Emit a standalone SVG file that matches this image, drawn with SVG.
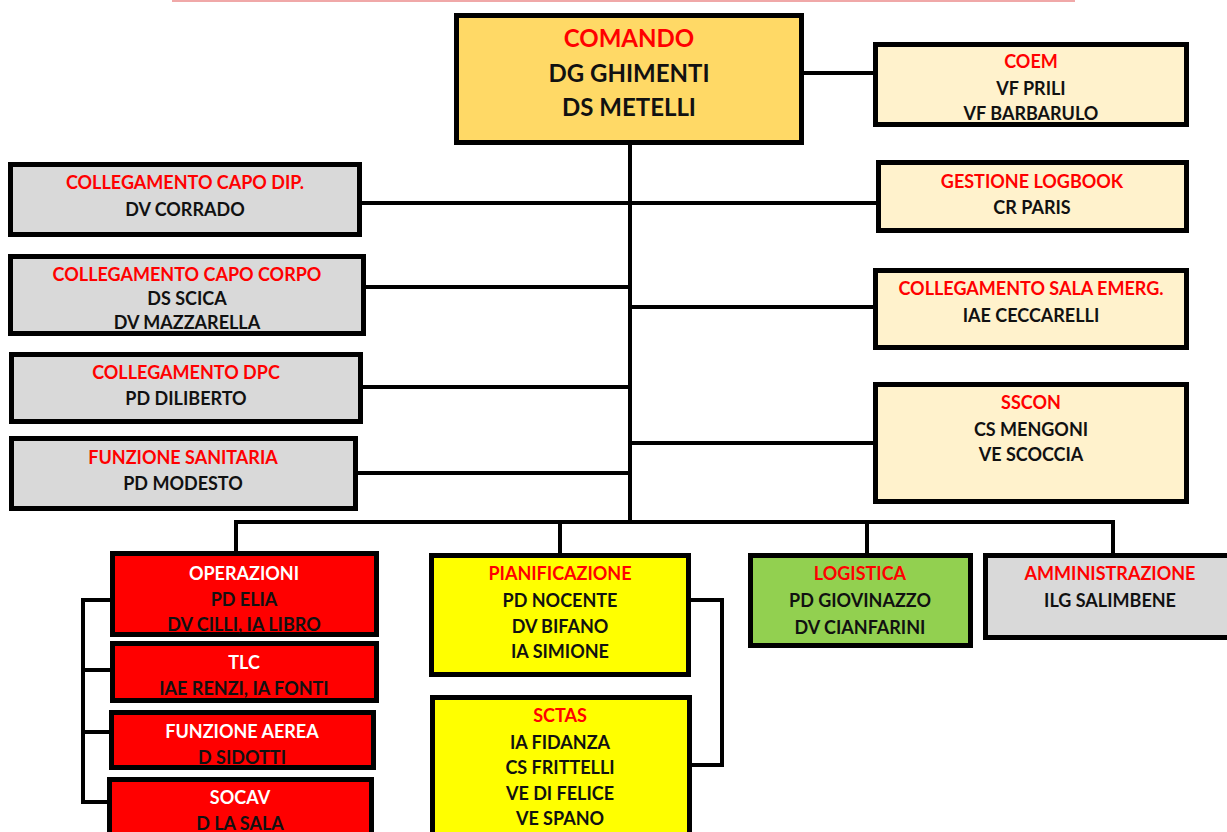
<svg xmlns="http://www.w3.org/2000/svg" width="1227" height="832" viewBox="0 0 1227 832">
<style>
.box{stroke:#000;stroke-width:5}
.gold{fill:#FFD966}.cream{fill:#FFF2CC}.gray{fill:#D9D9D9}.red{fill:#FF0000}.yel{fill:#FFFF00}.grn{fill:#92D050}
text{font-family:Lato,"Open Sans","Liberation Sans",sans-serif;font-weight:bold;font-size:18px;text-anchor:middle;fill:#111}
.t{fill:#FF0000}.w{fill:#FFFFFF}
.big{font-size:24px}
.con{fill:none;stroke:#000;stroke-width:4}
</style>
<rect x="172" y="0" width="903" height="2" fill="#F0A8A8"/>
<g id="connectors">
<path class="con" d="M804,73H873"/>
<path class="con" d="M630,145V522"/>
<path class="con" d="M362,203H876"/>
<path class="con" d="M366,287H630"/>
<path class="con" d="M630,307H873"/>
<path class="con" d="M363,387H630"/>
<path class="con" d="M630,443H873"/>
<path class="con" d="M358,473H630"/>
<path class="con" d="M236,553V522H1113V553"/>
<path class="con" d="M560,522V553"/>
<path class="con" d="M867,522V553"/>
<path class="con" d="M110,600H83V802H107"/>
<path class="con" d="M83,670H110"/>
<path class="con" d="M83,732H109"/>
<path class="con" d="M691,600H722V765H692"/>
</g>
<g id="comando">
<rect class="box gold" x="456.5" y="15.5" width="345" height="127"/>
<text class="big t" x="629" y="46.5">COMANDO</text>
<text class="big" x="629" y="81.5">DG GHIMENTI</text>
<text class="big" x="629" y="115.5">DS METELLI</text>
</g>
<g id="coem">
<rect class="box cream" x="875.5" y="44.5" width="311" height="80"/>
<text class="t" x="1031" y="67.5">COEM</text>
<text x="1031" y="94.5">VF PRILI</text>
<text x="1031" y="119.5">VF BARBARULO</text>
</g>
<g id="capo-dip">
<rect class="box gray" x="10.5" y="164.5" width="349" height="70"/>
<text class="t" x="185" y="188.5">COLLEGAMENTO CAPO DIP.</text>
<text x="185" y="215.5">DV CORRADO</text>
</g>
<g id="capo-corpo">
<rect class="box gray" x="10.5" y="256.5" width="353" height="77"/>
<text class="t" x="187" y="280.5">COLLEGAMENTO CAPO CORPO</text>
<text x="187" y="304.5">DS SCICA</text>
<text x="187" y="328.5">DV MAZZARELLA</text>
</g>
<g id="dpc">
<rect class="box gray" x="11.5" y="354.5" width="349" height="67"/>
<text class="t" x="186" y="378.5">COLLEGAMENTO DPC</text>
<text x="186" y="404.5">PD DILIBERTO</text>
</g>
<g id="sanitaria">
<rect class="box gray" x="11.5" y="438.5" width="344" height="70"/>
<text class="t" x="183" y="463.5">FUNZIONE SANITARIA</text>
<text x="183" y="489.5">PD MODESTO</text>
</g>
<g id="logbook">
<rect class="box cream" x="878.5" y="162.5" width="308" height="68"/>
<text class="t" x="1032" y="187.5">GESTIONE LOGBOOK</text>
<text x="1032" y="213.5">CR PARIS</text>
</g>
<g id="sala-emerg">
<rect class="box cream" x="875.5" y="270.5" width="311" height="77"/>
<text class="t" x="1031" y="294.5">COLLEGAMENTO SALA EMERG.</text>
<text x="1031" y="321.5">IAE CECCARELLI</text>
</g>
<g id="sscon">
<rect class="box cream" x="875.5" y="384.5" width="311" height="117"/>
<text class="t" x="1031" y="408.5">SSCON</text>
<text x="1031" y="435.5">CS MENGONI</text>
<text x="1031" y="460.5">VE SCOCCIA</text>
</g>
<g id="operazioni">
<rect class="box red" x="112.5" y="553.5" width="264" height="81"/>
<text class="w" x="244" y="579.5">OPERAZIONI</text>
<text x="244" y="605.5">PD ELIA</text>
<text x="244" y="630.5">DV CILLI, IA LIBRO</text>
</g>
<g id="tlc">
<rect class="box red" x="112.5" y="643.5" width="264" height="57"/>
<text class="w" x="244" y="668.5">TLC</text>
<text x="244" y="694.5">IAE RENZI, IA FONTI</text>
</g>
<g id="funzione-aerea">
<rect class="box red" x="111.5" y="712.5" width="262" height="55"/>
<text class="w" x="242" y="737.5">FUNZIONE AEREA</text>
<text x="242" y="763.5">D SIDOTTI</text>
</g>
<g id="socav">
<rect class="box red" x="109.5" y="779.5" width="262" height="70"/>
<text class="w" x="240" y="803.5">SOCAV</text>
<text x="240" y="829.5">D LA SALA</text>
</g>
<g id="pianificazione">
<rect class="box yel" x="431.5" y="555.5" width="257" height="119"/>
<text class="t" x="560" y="579.5">PIANIFICAZIONE</text>
<text x="560" y="606.5">PD NOCENTE</text>
<text x="560" y="632.5">DV BIFANO</text>
<text x="560" y="657.5">IA SIMIONE</text>
</g>
<g id="sctas">
<rect class="box yel" x="432.5" y="697.5" width="257" height="150"/>
<text class="t" x="560" y="721.5">SCTAS</text>
<text x="560" y="748.5">IA FIDANZA</text>
<text x="560" y="773.5">CS FRITTELLI</text>
<text x="560" y="799.5">VE DI FELICE</text>
<text x="560" y="824.5">VE SPANO</text>
</g>
<g id="logistica">
<rect class="box grn" x="750.5" y="555.5" width="220" height="90"/>
<text class="t" x="860" y="579.5">LOGISTICA</text>
<text x="860" y="606.5">PD GIOVINAZZO</text>
<text x="860" y="633.5">DV CIANFARINI</text>
</g>
<g id="amministrazione">
<rect class="box gray" x="985.5" y="555.5" width="260" height="82"/>
<text class="t" x="1110" y="579.5">AMMINISTRAZIONE</text>
<text x="1110" y="606.5">ILG SALIMBENE</text>
</g>
</svg>
